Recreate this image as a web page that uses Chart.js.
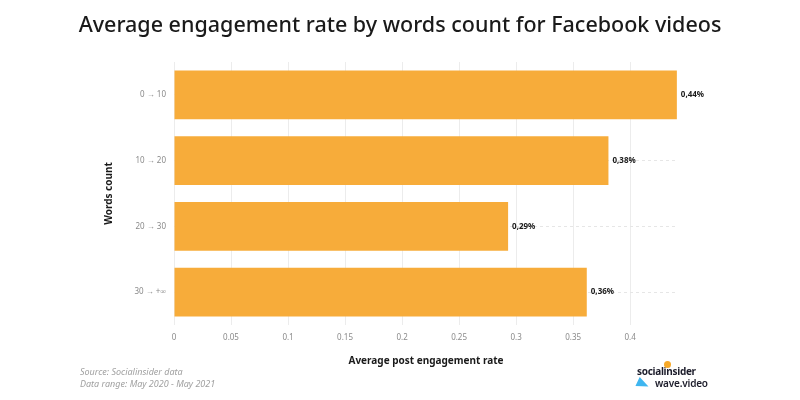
<!DOCTYPE html>
<html>
<head>
<meta charset="utf-8">
<script src="https://cdn.jsdelivr.net/npm/chart.js@4"></script>
<style>
  html, body { margin: 0; padding: 0; background: #ffffff; }
  #wrap { position: relative; width: 800px; height: 400px; font-family: "Noto Sans", sans-serif; }
  canvas { position: absolute; left: 0; top: 0; }
  .src { position: absolute; left: 80px; font-style: italic; font-size: 9px; color: #a0a0a0; }
  .logo1 { position: absolute; left: 637px; top: 364px; font-weight: 700; font-size: 10px; color: #1d1d2b; letter-spacing: -0.3px; }
  .logo2 { position: absolute; left: 655px; top: 376px; font-weight: 600; font-size: 10px; color: #1d1d2b; letter-spacing: -0.2px; }
  .tri { position: absolute; left: 637px; top: 379px; width: 0; height: 0; border-left: 12px solid #3fb6f0; border-top: 5px solid transparent; border-bottom: 5px solid transparent; transform: rotate(25deg); }
  .dot { position: absolute; left: 664px; top: 361px; width: 7px; height: 7px; border-radius: 50%; background: #f7a928; }
</style>
</head>
<body>
<div id="wrap">
  <canvas id="c" width="800" height="400"></canvas>
  <div class="src" style="top:365px">Source: Socialinsider data</div>
  <div class="src" style="top:377px">Data range: May 2020 - May 2021</div>
  <div class="logo1">socialinsider</div>
  <div class="dot"></div>
  <div class="tri"></div>
  <div class="logo2">wave.video</div>
</div>
<script>
const categories = ["0 → 10", "10 → 20", "20 → 30", "30 → +∞"];
const engagementRate = [0.441, 0.381, 0.293, 0.362];
const valueLabels = ["0,44%", "0,38%", "0,29%", "0,36%"];
const xTicks = [0, 0.05, 0.1, 0.15, 0.2, 0.25, 0.3, 0.35, 0.4];

const titlePlugin = {
  id: 'topTitle',
  afterDraw(chart) {
    const ctx = chart.ctx;
    ctx.save();
    ctx.font = '500 21.5px "Noto Sans"';
    ctx.fillStyle = '#1a1a1a';
    ctx.textAlign = 'center';
    ctx.textBaseline = 'middle';
    ctx.fillText('Average engagement rate by words count for Facebook videos', 400, 26);
    ctx.restore();
  }
};

const labelPlugin = {
  id: 'valueLabels',
  afterDatasetsDraw(chart) {
    const ctx = chart.ctx;
    const meta = chart.getDatasetMeta(0);
    ctx.save();
    ctx.font = 'bold 8px "Noto Sans"';
    ctx.fillStyle = '#1a1a1a';
    ctx.textAlign = 'left';
    ctx.textBaseline = 'middle';
    meta.data.forEach((bar, i) => {
      ctx.fillText(valueLabels[i], bar.x + 4, bar.y);
    });
    ctx.restore();
  }
};

new Chart(document.getElementById('c'), {
  type: 'bar',
  data: {
    labels: categories,
    datasets: [{
      data: engagementRate,
      backgroundColor: '#f7ac3a',
      borderWidth: 0,
      categoryPercentage: 1.0,
      barPercentage: 0.745
    }]
  },
  options: {
    indexAxis: 'y',
    responsive: false,
    animation: false,
    layout: { padding: { top: 62, right: 122, left: 103, bottom: 33 } },
    plugins: { legend: { display: false }, tooltip: { enabled: false }, title: { display: false } },
    scales: {
      x: {
        min: 0,
        max: 0.442,
        afterBuildTicks(scale) { scale.ticks = xTicks.map(v => ({ value: v })); },
        afterFit(scale) { scale.height = 42; },
        border: { display: false },
        grid: { color: '#ececec', lineWidth: 1, drawTicks: false },
        ticks: {
          color: '#8a8a8a',
          font: { family: 'Noto Sans', size: 8 },
          padding: 8,
          callback: (v) => String(v)
        },
        title: {
          display: true,
          text: 'Average post engagement rate',
          color: '#1a1a1a',
          font: { family: 'Noto Sans', size: 10, weight: 'bold' },
          padding: { top: 8, bottom: 0 }
        }
      },
      y: {
        afterFit(scale) { scale.width = 71; },
        grid: { offset: false, color: '#e6e6e6', lineWidth: 1, drawTicks: false },
        border: { display: false, dash: [3, 3] },
        ticks: {
          color: '#8a8a8a',
          font: { family: 'Noto Sans', size: 8 },
          padding: 8
        },
        title: {
          display: true,
          text: 'Words count',
          color: '#1a1a1a',
          font: { family: 'Noto Sans', size: 10, weight: 'bold' },
          padding: { top: 0, bottom: 4 }
        }
      }
    }
  },
  plugins: [titlePlugin, labelPlugin]
});
</script>
</body>
</html>
